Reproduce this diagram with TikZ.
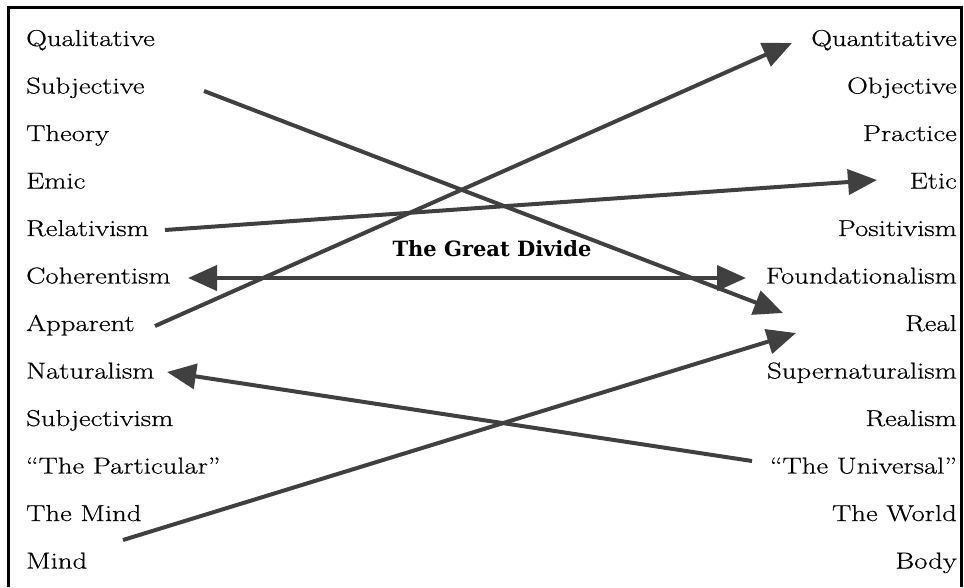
\documentclass[tikz,border=0pt]{standalone}
\usepackage{fontspec}
\setmainfont{Latin Modern Roman}[FakeStretch=1.25,FakeBold=0.6]
\newfontfamily\dividefont{DejaVu Serif}
\usetikzlibrary{arrows.meta}
\definecolor{arrgray}{RGB}{64,64,64}
\tikzset{
	lab/.style={font=\fontsize{23}{27}\selectfont,inner sep=0pt},
	lft/.style={lab,anchor=base west},
	rgt/.style={lab,anchor=base east},
	link/.style={line width=4pt,draw=arrgray,-{Triangle[length=29pt,width=25pt]}},
}
\begin{document}
\begin{tikzpicture}[x=1pt,y=-1pt]
	\useasboundingbox (0,0) rectangle (964,587);
	\draw[line width=3pt] (8,587)--(8,7)--(961,7)--(961,587);
	% left column
	\node[lft] (qual) at (26,46) {Qualitative};
	\node[lft] (subj) at (26,93.5) {Subjective};
	\node[lft] (theo) at (26,141) {Theory};
	\node[lft] (emic) at (26,188.5) {Emic};
	\node[lft] (relat) at (26,236) {Relativism};
	\node[lft] (coher) at (26,283.5) {Coherentism};
	\node[lft] (appar) at (26,331) {Apparent};
	\node[lft] (natur) at (26,378.5) {Naturalism};
	\node[lft] (subjism) at (26,426) {Subjectivism};
	\node[lft] (partic) at (26,473.5) {“The Particular”};
	\node[lft] (themind) at (26,521) {The Mind};
	\node[lft] (mind) at (26,568.5) {Mind};
	% right column
	\node[rgt] (quan) at (957,46) {Quantitative};
	\node[rgt] (obj) at (957,93.5) {Objective};
	\node[rgt] (prac) at (957,141) {Practice};
	\node[rgt] (etic) at (957,188.5) {Etic};
	\node[rgt] (posit) at (957,236) {Positivism};
	\node[rgt] (found) at (957,283.5) {Foundationalism};
	\node[rgt] (real) at (957,331) {Real};
	\node[rgt] (supnat) at (957,378.5) {Supernaturalism};
	\node[rgt] (realism) at (957,426) {Realism};
	\node[rgt] (univ) at (957,473.5) {“The Universal”};
	\node[rgt] (world) at (957,521) {The World};
	\node[rgt] (body) at (957,568.5) {Body};
	\node[font=\dividefont\bfseries\fontsize{21}{24}\selectfont,inner sep=0pt] (divide) at (492,249) {The Great Divide};
	% crossing arrows
	\draw[link] ([shift={(178,-2.5)}]subj.base west)--([shift={(-174,-18)}]real.base east);
	\draw[link] ([shift={(129,-5)}]appar.base west)--([shift={(-165,-3)}]quan.base east);
	\draw[link] ([shift={(139,-6)}]relat.base west)--([shift={(-80,-8.5)}]etic.base east);
	\draw[link,{Triangle[length=29pt,width=25pt]}-{Triangle[length=29pt,width=25pt]}] ([shift={(162,-5.5)}]coher.base west)--([shift={(-211,-5.5)}]found.base east);
	\draw[link] ([shift={(97,-28.5)}]mind.base west)--([shift={(-161,2)}]real.base east);
	\draw[link] ([shift={(-205,-12.5)}]univ.base east)--([shift={(141,-6.5)}]natur.base west);
\end{tikzpicture}
\end{document}
